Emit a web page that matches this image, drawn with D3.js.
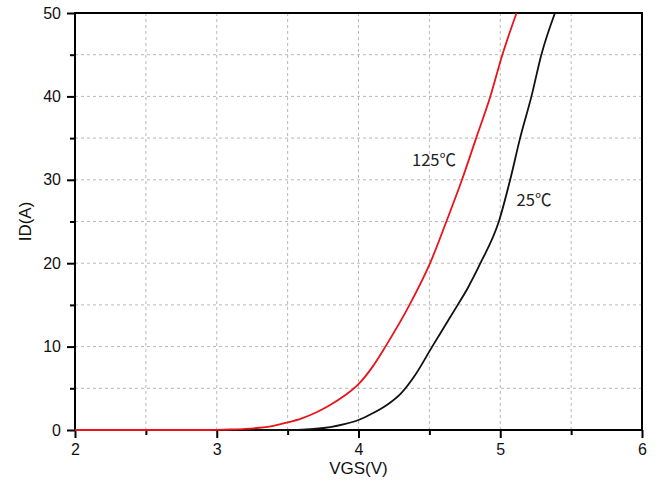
<!DOCTYPE html>
<html><head><meta charset="utf-8">
<script src="https://cdn.jsdelivr.net/npm/d3@7"></script>
<style>body{margin:0;background:#fff}</style>
</head><body>
<svg id="c" width="664" height="488"></svg>
<script>
const vgs25 = [2.0, 3.0, 3.5, 3.6, 3.7, 3.8, 3.9, 4.0, 4.1, 4.2, 4.3, 4.4, 4.52, 4.61, 4.70, 4.77, 4.86, 4.99, 5.07, 5.14, 5.22, 5.29, 5.386];
const id25  = [0, 0, 0, 0.05, 0.15, 0.35, 0.7, 1.2, 2.0, 3.0, 4.4, 6.6, 10, 12.5, 15, 17, 20, 25, 30, 35, 40, 45, 50];
const vgs125 = [2.0, 2.9, 3.0, 3.1, 3.2, 3.3, 3.4, 3.5, 3.6, 3.7, 3.8, 3.9, 4.0, 4.1, 4.19, 4.36, 4.505, 4.62, 4.73, 4.83, 4.93, 5.015, 5.115];
const id125  = [0, 0, 0.02, 0.06, 0.13, 0.27, 0.5, 0.9, 1.4, 2.1, 3.0, 4.1, 5.5, 7.6, 10, 15, 20, 25, 30, 35, 40, 45, 50];
const xMajor = [2, 3, 4, 5, 6];
const yMajor = [0, 10, 20, 30, 40, 50];
const xMinor = [2.5, 3.5, 4.5, 5.5];
const yMinor = [5, 15, 25, 35, 45];
const labels = [{t: "125℃", x: 4.533, y: 31.6}, {t: "25℃", x: 5.238, y: 26.8}];

const svg = d3.select("#c");
const L = 75, R = 642, T = 13, B = 430;
const x = d3.scaleLinear().domain([2, 6]).range([L, R]);
const y = d3.scaleLinear().domain([0, 50]).range([B, T]);

// grid
const gridX = [...xMinor, 3, 4, 5];
const gridY = [...yMinor, 10, 20, 30, 40];
svg.append("g").selectAll("line").data(gridX).join("line")
  .attr("x1", d => x(d)).attr("x2", d => x(d)).attr("y1", T).attr("y2", B)
  .attr("stroke", "#b8b8b8").attr("stroke-width", 1).attr("stroke-dasharray", "3,3");
svg.append("g").selectAll("line").data(gridY).join("line")
  .attr("y1", d => y(d)).attr("y2", d => y(d)).attr("x1", L).attr("x2", R)
  .attr("stroke", "#b8b8b8").attr("stroke-width", 1).attr("stroke-dasharray", "3,3");

// axes
const font = "'Liberation Sans', Arial, sans-serif";
const xAxis = d3.axisBottom(x).tickValues(xMajor).tickFormat(d3.format("d")).tickSize(8).tickPadding(6);
svg.append("g").attr("transform", `translate(0,${B})`).call(xAxis);
const xAxisMinor = d3.axisBottom(x).tickValues(xMinor).tickFormat("").tickSize(5);
svg.append("g").attr("transform", `translate(0,${B})`).call(xAxisMinor);
const yAxis = d3.axisLeft(y).tickValues(yMajor).tickFormat(d3.format("d")).tickSize(8).tickPadding(6);
svg.append("g").attr("transform", `translate(${L},0)`).call(yAxis);
const yAxisMinor = d3.axisLeft(y).tickValues(yMinor).tickFormat("").tickSize(5);
svg.append("g").attr("transform", `translate(${L},0)`).call(yAxisMinor);
svg.selectAll(".domain").remove();
svg.selectAll(".tick line").attr("stroke", "#000").attr("stroke-width", 2);
svg.selectAll(".tick text").attr("font-family", font).attr("font-size", 16).attr("fill", "#111");

// frame
svg.append("rect").attr("x", L).attr("y", T).attr("width", R - L).attr("height", B - T)
  .attr("fill", "none").attr("stroke", "#000").attr("stroke-width", 2);

// curves
const line = d3.line().x(d => x(d[0])).y(d => y(d[1])).curve(d3.curveMonotoneX);
svg.append("path").datum(vgs25.map((v, i) => [v, id25[i]]))
  .attr("d", line).attr("fill", "none").attr("stroke", "#111").attr("stroke-width", 1.8);
svg.append("path").datum(vgs125.map((v, i) => [v, id125[i]]))
  .attr("d", line).attr("fill", "none").attr("stroke", "#e8141b").attr("stroke-width", 1.8);

// curve labels
svg.append("g").selectAll("text").data(labels).join("text")
  .attr("x", d => x(d.x)).attr("y", d => y(d.y)).attr("text-anchor", "middle")
  .attr("font-family", "'Noto Sans CJK SC', 'Noto Sans', sans-serif").attr("font-size", 16.5)
  .attr("fill", "#222").text(d => d.t);

// axis titles
svg.append("text").attr("x", (L + R) / 2).attr("y", 474).attr("text-anchor", "middle")
  .attr("font-family", font).attr("font-size", 17).attr("fill", "#111").text("VGS(V)");
svg.append("text").attr("transform", `translate(31,${(T + B) / 2}) rotate(-90)`).attr("text-anchor", "middle")
  .attr("font-family", font).attr("font-size", 17).attr("fill", "#111").text("ID(A)");
</script>
</body></html>
